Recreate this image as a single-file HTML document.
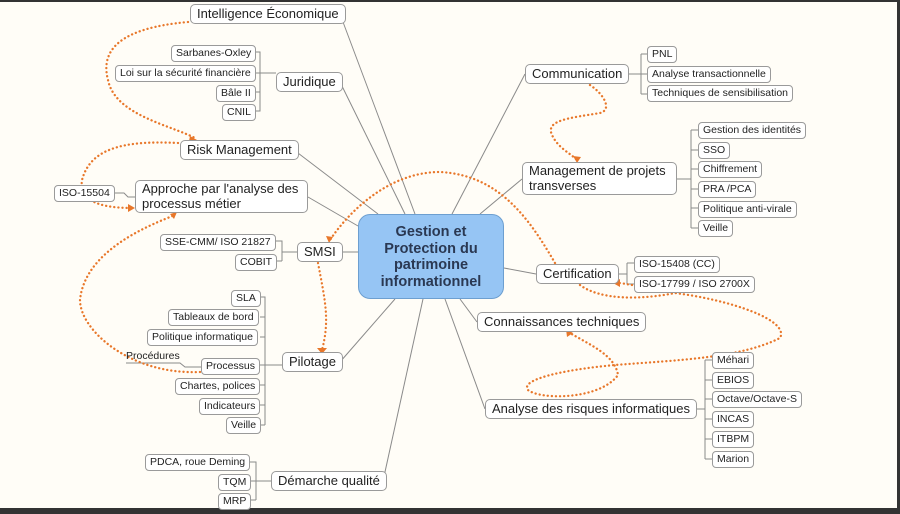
<!DOCTYPE html>
<html><head><meta charset="utf-8"><style>
body{margin:0;width:900px;height:514px;overflow:hidden;background:#fffdf7;font-family:"Liberation Sans",sans-serif;position:relative}
.n{position:absolute;box-sizing:border-box;border:1px solid #9a9a9a;border-radius:4px;background:#fff;color:#222;white-space:nowrap;font-size:10.5px;line-height:13px;padding:1px 4px}
.m{font-size:13px;line-height:16px;padding:1px 6px;border-radius:5px}
#c{position:absolute;left:358px;top:214px;width:146px;height:85px;background:#96c5f4;border:1px solid #6d9fd0;border-radius:12px;box-sizing:border-box;color:#2a3852;font-weight:bold;font-size:14.5px;line-height:16.5px;text-align:center;padding-top:9px}
svg{position:absolute;left:0;top:0}
</style></head><body>
<svg width="900" height="514">
<rect x="0" y="0" width="900" height="2" fill="#333"/>
<rect x="897" y="0" width="3" height="514" fill="#333"/>
<rect x="0" y="508" width="900" height="6" fill="#333"/>
<g stroke="#8a8a8a" stroke-width="1" fill="none">
<path d="M340 14 L415 214"/><path d="M340 82 L405 214"/><path d="M294 150 L378 214"/><path d="M308 197 L358 226"/>
<path d="M340 252 L358 252"/><path d="M340 362 L395 299"/><path d="M383 481 L423 299"/>
<path d="M525 74 L452 214"/><path d="M522 179 L480 214"/><path d="M536 274 L504 268"/><path d="M477 322 L460 299"/><path d="M485 409 L445 299"/>
<path d="M255 52h5v48M255 73h21M255 92h5M255 111h5v-11"/>
<path d="M114 193h10l4 4h7"/>
<path d="M276 241h6v20M276 261h6M282 252h15"/>
<path d="M260 297h5v128M260 317h5M260 337h5M260 365h22M260 385h5M260 405h5M260 425h5"/>
<path d="M126 363h54l5 4h16"/>
<path d="M250 462h6v38M250 481h21M250 500h6"/>
<path d="M627 74h14M641 54v40M641 54h6M641 94h6M641 74h6"/>
<path d="M677 179h14M691 130v98M691 130h7M691 150h7M691 169h7M691 189h7M691 208h7M691 228h7"/>
<path d="M615 274h12M627 263v21M627 263h7M627 284h7"/>
<path d="M691 409h14M705 360v99M705 360h7M705 380h7M705 399h7M705 419h7M705 439h7M705 459h7"/>
</g>
<g stroke="#e8772a" stroke-width="2.3" fill="none" stroke-dasharray="0.1 4" stroke-linecap="round">
<path d="M188 22 C120 28 100 50 108 80 C115 115 170 125 195 138"/>
<path d="M178 143 C120 140 90 150 82 180 C78 205 110 208 133 208"/>
<path d="M200 372 C130 375 80 330 80 300 C85 250 150 225 175 215"/>
<path d="M555 263 C530 220 500 175 440 172 C390 172 350 210 330 240"/>
<path d="M318 263 C325 300 330 320 322 350"/>
<path d="M590 85 C605 95 612 110 600 113 C570 118 545 120 552 135 C558 148 570 153 577 160"/>
<path d="M632 285 C625 284 622 283 618 283"/>
<path d="M580 285 C600 300 640 300 675 293 C730 300 790 320 780 338 C740 358 680 360 615 365 C560 370 520 380 528 390 C540 400 600 400 618 375 C615 355 590 345 570 333"/>
</g>
<g fill="#e8772a">
<path d="M190 136l7 4-8 1z"/><path d="M128 204l7 4-7 4z"/><path d="M170 214l7 -2-3 7z"/><path d="M326 236l3 7 4-6z"/><path d="M317 348l5 6 5-6z"/><path d="M573 156l4 7 4-6z"/><path d="M613 283l7-4v8z"/><path d="M566 329l1 8 6-4z"/>
</g>
</svg>
<div class="n m" style="left:190px;top:4px">Intelligence Économique</div>
<div class="n" style="left:171px;top:45px">Sarbanes-Oxley</div>
<div class="n" style="left:115px;top:65px">Loi sur la sécurité financière</div>
<div class="n" style="left:216px;top:85px">Bâle II</div>
<div class="n" style="left:222px;top:104px">CNIL</div>
<div class="n m" style="left:276px;top:72px">Juridique</div>
<div class="n m" style="left:180px;top:140px">Risk Management</div>
<div class="n" style="left:54px;top:185px">ISO-15504</div>
<div class="n m" style="left:135px;top:180px;width:173px;line-height:14.5px">Approche par l'analyse des<br>processus métier</div>
<div class="n" style="left:160px;top:234px">SSE-CMM/ ISO 21827</div>
<div class="n" style="left:235px;top:254px">COBIT</div>
<div class="n m" style="left:297px;top:242px">SMSI</div>
<div id="c">Gestion et<br>Protection du<br>patrimoine<br>informationnel</div>
<div class="n" style="left:231px;top:290px">SLA</div>
<div class="n" style="left:168px;top:309px">Tableaux de bord</div>
<div class="n" style="left:147px;top:329px">Politique informatique</div>
<div style="position:absolute;left:126px;top:350px;font-size:10.5px;color:#222">Procédures</div>
<div class="n" style="left:201px;top:358px">Processus</div>
<div class="n" style="left:175px;top:378px">Chartes, polices</div>
<div class="n" style="left:199px;top:398px">Indicateurs</div>
<div class="n" style="left:226px;top:417px">Veille</div>
<div class="n m" style="left:282px;top:352px">Pilotage</div>
<div class="n" style="left:145px;top:454px">PDCA, roue Deming</div>
<div class="n" style="left:218px;top:474px">TQM</div>
<div class="n" style="left:218px;top:493px">MRP</div>
<div class="n m" style="left:271px;top:471px">Démarche qualité</div>
<div class="n m" style="left:525px;top:64px">Communication</div>
<div class="n" style="left:647px;top:46px">PNL</div>
<div class="n" style="left:647px;top:66px">Analyse transactionnelle</div>
<div class="n" style="left:647px;top:85px">Techniques de sensibilisation</div>
<div class="n m" style="left:522px;top:162px;width:155px;line-height:14.5px">Management de projets<br>transverses</div>
<div class="n" style="left:698px;top:122px">Gestion des identités</div>
<div class="n" style="left:698px;top:142px">SSO</div>
<div class="n" style="left:698px;top:161px">Chiffrement</div>
<div class="n" style="left:698px;top:181px">PRA /PCA</div>
<div class="n" style="left:698px;top:201px">Politique anti-virale</div>
<div class="n" style="left:698px;top:220px">Veille</div>
<div class="n m" style="left:536px;top:264px">Certification</div>
<div class="n" style="left:634px;top:256px">ISO-15408 (CC)</div>
<div class="n" style="left:634px;top:276px">ISO-17799 / ISO 2700X</div>
<div class="n m" style="left:477px;top:312px">Connaissances techniques</div>
<div class="n m" style="left:485px;top:399px">Analyse des risques informatiques</div>
<div class="n" style="left:712px;top:352px">Méhari</div>
<div class="n" style="left:712px;top:372px">EBIOS</div>
<div class="n" style="left:712px;top:391px">Octave/Octave-S</div>
<div class="n" style="left:712px;top:411px">INCAS</div>
<div class="n" style="left:712px;top:431px">ITBPM</div>
<div class="n" style="left:712px;top:451px">Marion</div>
</body></html>
